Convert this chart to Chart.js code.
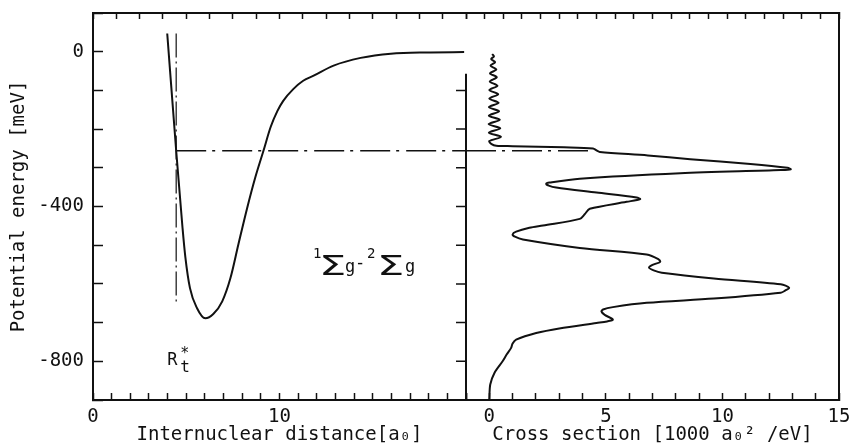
<!DOCTYPE html>
<html>
<head>
<meta charset="utf-8">
<script src="https://cdn.jsdelivr.net/npm/chart.js@4.4.1/dist/chart.umd.min.js"></script>
<style>
    html, body { margin: 0; padding: 0; background: #fff; }
    #wrap { width: 854px; height: 448px; }
</style>
</head>
<body>
<div id="wrap"><canvas id="chart" width="854" height="448"></canvas></div>
<script>
// Potential curve (left panel): internuclear distance [a0] vs energy [meV]
const distance = [3.98, 4.46, 4.8, 4.95, 5.2, 5.58, 6.02, 6.45, 6.93, 7.37, 7.8, 8.27, 8.7, 9.14, 9.53, 9.89, 10.2, 10.75, 11.27, 11.83, 12.9, 14.35, 15.97, 18.1, 19.9];
const potential = [47, -256, -455, -530, -611, -663, -689, -678, -645, -585, -497, -403, -325, -256, -194, -153, -127, -96, -75, -62, -36, -16, -5, -2, -1];

// Turning point line and energy level (dash-dot)
const turningR = [4.46, 4.46];
const turningE = [47, -652];
const levelR = [4.46, 20];
const levelCross = [-1, 4.45];
const levelE = [-256, -256];

// Cross section curve (right panel): energy [meV] vs cross section [1000 a0^2/eV]
const crossEnergy = [-6, -12, -19, -27, -36, -46, -56, -66, -77, -88, -99, -110, -121, -132, -143, -154, -165, -176, -187, -198, -209, -220, -231, -239, -243,
    -244, -247, -250, -255, -259, -268, -278, -290, -300, -304, -306, -314, -328, -338, -341, -346, -351, -364, -377, -381, -388,
    -406, -420, -432, -449, -455, -465, -472, -478, -485, -507, -524, -536, -543, -551, -558, -565, -571, -586, -601, -610, -617,
    -623, -638, -649, -660, -666, -671, -680, -692, -697, -701, -715, -727, -744, -754, -766, -782, -800, -830, -860, -899];
const crossSection = [0.12, 0.2, 0.08, 0.25, 0.05, 0.3, 0.03, 0.32, 0.02, 0.35, 0.0, 0.38, 0.0, 0.4, -0.02, 0.42, -0.02, 0.45, -0.03, 0.47, -0.02, 0.5, 0.0, 0.1, 0.3,
    1.0, 3.2, 4.45, 4.6, 4.74, 6.8, 8.62, 11.2, 12.79, 12.93, 12.5, 8.19, 3.88, 2.59, 2.44, 2.55, 2.87, 4.6, 6.32, 6.47, 5.89,
    4.31, 4.09, 3.88, 2.3, 1.72, 1.15, 1.0, 1.1, 1.44, 3.88, 6.75, 7.25, 7.33, 7.0, 6.85, 7.05, 7.4, 9.63, 12.5, 12.86, 12.7,
    12.5, 9.63, 6.75, 5.3, 4.88, 4.81, 4.95, 5.3, 5.05, 4.6, 3.0, 2.01, 1.15, 1.0, 0.93, 0.75, 0.57, 0.22, 0.04, 0.0];

// Tick labels
const energyTickLabels = [0, -400, -800];
const distanceTickLabels = [0, 10];
const crossTickLabels = [0, 5, 10, 15];
const dividerTicks = [-100, -200, -300, -400, -500, -600, -700, -800];
const dividerTop = -57;

const FONT = "'DejaVu Sans Mono', monospace";
const INK = '#111';
const axisFont = { family: FONT, size: 19 };

Chart.defaults.font.family = FONT;
Chart.defaults.color = INK;

function points(xs, ys) {
    return xs.map((v, i) => ({ x: v, y: ys[i] }));
}

function innerGrid(len) {
    return { drawOnChartArea: false, tickLength: len, color: INK, tickWidth: 1.5 };
}

// Fix the axis box size and drop the label overhang padding
function fixHeight(h) {
    return s => { s.height = h; s.paddingLeft = 0; s.paddingRight = 0; };
}
function fixWidth(w) {
    return s => { s.width = w; s.paddingTop = 0; s.paddingBottom = 0; };
}

const frameBorder = { color: INK, width: 2 };

// Draw small text pieces (super/subscripts) relative to an anchor
function piece(ctx, text, x, y, size, family, stretch) {
    ctx.save();
    ctx.translate(x, y);
    ctx.scale(stretch || 1, 1);
    ctx.font = size + 'px ' + family;
    ctx.fillText(text, 0, 0);
    ctx.restore();
}

// Divider between the two panels and the text labels
const extras = {
    id: 'extras',
    afterDatasetsDraw(chart) {
        const { ctx, chartArea, scales } = chart;
        const px = scales.x2.getPixelForValue(-1);
        ctx.save();
        ctx.strokeStyle = INK;
        ctx.lineWidth = 2;
        ctx.beginPath();
        ctx.moveTo(px, scales.y.getPixelForValue(dividerTop));
        ctx.lineTo(px, chartArea.bottom);
        ctx.stroke();
        ctx.lineWidth = 1.5;
        ctx.beginPath();
        dividerTicks.forEach(v => {
            const py = scales.y.getPixelForValue(v);
            ctx.moveTo(px, py);
            ctx.lineTo(px - 10, py);
        });
        ctx.stroke();

        ctx.fillStyle = INK;
        ctx.textAlign = 'left';
        ctx.textBaseline = 'alphabetic';

        // 1Σg - 2Σg label
        const sx = scales.x.getPixelForValue(11.8);
        const sy = scales.y.getPixelForValue(-577);
        piece(ctx, '1', sx, sy - 17, 14, FONT);
        piece(ctx, 'Σ', sx + 6, sy, 27, "'DejaVu Sans'", 1.6);
        piece(ctx, 'g', sx + 32, sy - 3, 17, FONT);
        piece(ctx, '-', sx + 42, sy - 7, 17, FONT);
        piece(ctx, '2', sx + 54, sy - 17, 14, FONT);
        piece(ctx, 'Σ', sx + 64, sy, 27, "'DejaVu Sans'", 1.6);
        piece(ctx, 'g', sx + 92, sy - 3, 17, FONT);

        // R*t label
        const rx = scales.x.getPixelForValue(3.98);
        const ry = scales.y.getPixelForValue(-810);
        piece(ctx, 'R', rx, ry, 17, FONT);
        piece(ctx, '*', rx + 13, ry - 7, 15, FONT);
        piece(ctx, 't', rx + 13, ry + 7, 16, FONT);
        ctx.restore();
    }
};

const lineBase = { showLine: true, pointRadius: 0, borderColor: INK, yAxisID: 'y' };

new Chart(document.getElementById('chart'), {
    type: 'scatter',
    data: {
        datasets: [
            Object.assign({}, lineBase, {
                label: 'Potential',
                data: points(distance, potential),
                xAxisID: 'x',
                borderWidth: 2,
                cubicInterpolationMode: 'monotone'
            }),
            Object.assign({}, lineBase, {
                label: 'Turning point',
                data: points(turningR, turningE),
                xAxisID: 'x',
                borderWidth: 1.2,
                borderDash: [24, 4, 2, 4]
            }),
            Object.assign({}, lineBase, {
                label: 'Level',
                data: points(levelR, levelE),
                xAxisID: 'x',
                borderWidth: 1.5,
                borderDash: [30, 6, 3, 7]
            }),
            Object.assign({}, lineBase, {
                label: 'Level (cross section)',
                data: points(levelCross, levelE),
                xAxisID: 'x2',
                borderWidth: 1.5,
                borderDash: [30, 6, 3, 7]
            }),
            Object.assign({}, lineBase, {
                label: 'Cross section',
                data: points(crossSection, crossEnergy),
                xAxisID: 'x2',
                borderWidth: 2,
                tension: 0.3
            })
        ]
    },
    options: {
        responsive: false,
        animation: false,
        layout: { padding: 0 },
        plugins: {
            legend: { display: false },
            tooltip: { enabled: false }
        },
        scales: {
            x: {
                type: 'linear', axis: 'x', position: 'bottom', stack: 'bottom', stackWeight: 1,
                min: 0, max: 20,
                afterFit: fixHeight(48),
                grid: innerGrid(-7),
                border: frameBorder,
                ticks: {
                    stepSize: 1, autoSkip: false, maxRotation: 0, padding: 13, color: INK, font: axisFont,
                    callback: v => distanceTickLabels.includes(v) ? String(v) : ''
                },
                title: { display: true, text: 'Internuclear distance[a₀]', color: INK, font: axisFont, padding: { top: 0, bottom: 2 } }
            },
            x2: {
                type: 'linear', axis: 'x', position: 'bottom', stack: 'bottom', stackWeight: 1,
                min: -1, max: 15,
                afterFit: fixHeight(48),
                grid: innerGrid(-7),
                border: frameBorder,
                ticks: {
                    stepSize: 1, autoSkip: false, maxRotation: 0, padding: 13, color: INK, font: axisFont,
                    callback: v => crossTickLabels.includes(v) ? String(v) : ''
                },
                title: { display: true, text: 'Cross section [1000 a₀² /eV]', color: INK, font: axisFont, padding: { top: 0, bottom: 2 } }
            },
            xt: {
                type: 'linear', axis: 'x', position: 'top', stack: 'top', stackWeight: 1,
                min: 0, max: 20,
                afterFit: fixHeight(13),
                grid: innerGrid(-6),
                border: frameBorder,
                ticks: { stepSize: 1, autoSkip: false, maxRotation: 0, callback: () => '' }
            },
            xt2: {
                type: 'linear', axis: 'x', position: 'top', stack: 'top', stackWeight: 1,
                min: -1, max: 15,
                afterFit: fixHeight(13),
                grid: innerGrid(-6),
                border: frameBorder,
                ticks: { stepSize: 1, autoSkip: false, maxRotation: 0, callback: () => '' }
            },
            y: {
                type: 'linear', axis: 'y', position: 'left',
                min: -900, max: 100,
                afterFit: fixWidth(93),
                grid: innerGrid(-10),
                border: frameBorder,
                ticks: {
                    stepSize: 100, autoSkip: false, padding: 19, color: INK, font: axisFont,
                    callback: v => energyTickLabels.includes(v) ? String(v) : ''
                },
                title: { display: true, text: 'Potential energy [meV]', color: INK, font: axisFont, padding: { top: 8, bottom: 0 } }
            },
            yr: {
                type: 'linear', axis: 'y', position: 'right',
                min: -900, max: 100,
                afterFit: fixWidth(15),
                grid: { display: false },
                border: frameBorder,
                ticks: { display: false }
            }
        }
    },
    plugins: [extras]
});
</script>
</body>
</html>
